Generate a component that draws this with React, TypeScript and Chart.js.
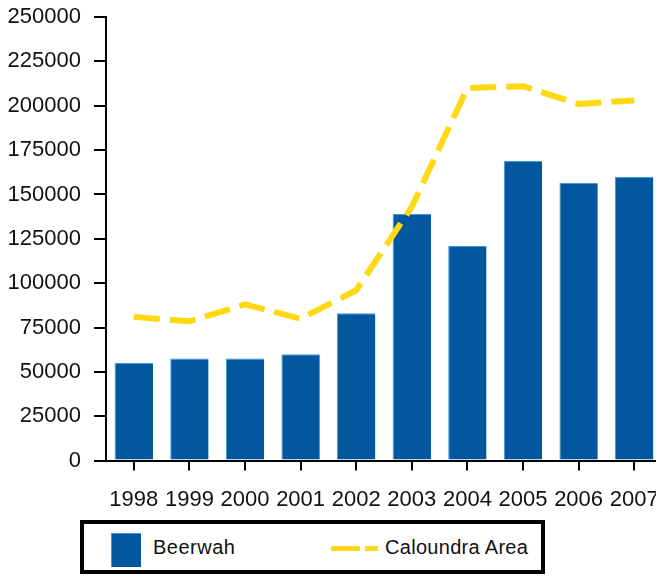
import React, { useEffect, useRef } from "react";
import { Chart, registerables } from "chart.js";

Chart.register(...registerables);

const years = ["1998", "1999", "2000", "2001", "2002", "2003", "2004", "2005", "2006", "2007"];
const beerwah = [55000, 57500, 57500, 60000, 83000, 139000, 121000, 169000, 156500, 160000];
const caloundra = [81000, 78500, 88000, 80000, 96000, 143000, 210000, 211000, 201000, 203000];
const yMin = 0;
const yMax = 250000;
const yStep = 25000;

const BAR_LABEL = "Beerwah";
const LINE_LABEL = "Caloundra Area";
const BAR_COLOR = "#03579E";
const BAR_EDGE = "#3C97E4";
const LINE_COLOR = "#FFD814";
const FONT = "'Liberation Sans', Arial, sans-serif";

export default function App() {
  const ref = useRef<HTMLCanvasElement>(null);

  useEffect(() => {
    if (!ref.current) return;
    const chart = new Chart(ref.current, {
      type: "bar",
      data: {
        labels: years,
        datasets: [
          {
            type: "line",
            label: LINE_LABEL,
            data: caloundra,
            borderColor: LINE_COLOR,
            backgroundColor: LINE_COLOR,
            borderWidth: 6,
            borderDash: [26, 10],
            borderCapStyle: "butt",
            borderJoinStyle: "round",
            pointRadius: 0,
            tension: 0,
            fill: false,
            order: 0,
          } as any,
          {
            type: "bar",
            label: BAR_LABEL,
            data: beerwah,
            backgroundColor: BAR_COLOR,
            borderColor: BAR_EDGE,
            borderWidth: { top: 1, left: 1, right: 0, bottom: 0 },
            barPercentage: 0.69,
            categoryPercentage: 1,
            order: 1,
          } as any,
        ],
      },
      options: {
        responsive: false,
        animation: false,
        layout: { padding: { top: 17, left: 0, right: 0, bottom: 0 } },
        plugins: {
          legend: { display: false },
          tooltip: { enabled: false },
        },
        scales: {
          x: {
            offset: true,
            afterFit: (s: any) => {
              s.paddingLeft = 0;
              s.paddingRight = 0;
            },
            grid: {
              display: true,
              drawOnChartArea: false,
              drawTicks: true,
              tickLength: 10,
              color: "#000",
              lineWidth: 2,
              offset: false,
            },
            border: { display: true, color: "#000", width: 2 },
            ticks: {
              autoSkip: false,
              maxRotation: 0,
              minRotation: 0,
              padding: 16,
              color: "#111",
              font: { family: FONT, size: 22 },
            },
          },
          y: {
            min: yMin,
            max: yMax,
            afterFit: (s: any) => {
              s.width = 106;
              s.paddingTop = 0;
              s.paddingBottom = 0;
            },
            grid: {
              display: true,
              drawOnChartArea: false,
              drawTicks: true,
              tickLength: 12,
              color: "#000",
              lineWidth: 2,
            },
            border: { display: true, color: "#000", width: 2 },
            ticks: {
              stepSize: yStep,
              padding: 13,
              color: "#111",
              font: { family: FONT, size: 22 },
              callback: (v: any) => String(v),
            },
          },
        },
      },
    });
    return () => chart.destroy();
  }, []);

  return (
    <div
      style={{
        position: "absolute",
        left: 0,
        top: 0,
        width: 656,
        height: 577,
        overflow: "hidden",
        background: "#fff",
        fontFamily: FONT,
      }}
    >
      <canvas ref={ref} width={662} height={529} style={{ display: "block" }} />
      <div
        style={{
          position: "absolute",
          left: 80,
          top: 520,
          width: 465,
          height: 54,
          boxSizing: "border-box",
          border: "4px solid #000",
          background: "#fff",
        }}
      >
        <div
          style={{
            position: "absolute",
            left: 27,
            top: 9,
            width: 30,
            height: 34,
            boxSizing: "border-box",
            background: BAR_COLOR,
            borderLeft: `1px solid ${BAR_EDGE}`,
            borderTop: `1px solid ${BAR_EDGE}`,
          }}
        />
        <div
          style={{
            position: "absolute",
            left: 69,
            top: 0,
            height: 46,
            lineHeight: "46px",
            fontSize: 20,
            letterSpacing: 0.5,
            color: "#111",
            whiteSpace: "nowrap",
          }}
        >
          {BAR_LABEL}
        </div>
        <div
          style={{
            position: "absolute",
            left: 247,
            top: 22,
            width: 29,
            height: 5,
            background: LINE_COLOR,
          }}
        />
        <div
          style={{
            position: "absolute",
            left: 281,
            top: 22,
            width: 13,
            height: 5,
            background: LINE_COLOR,
          }}
        />
        <div
          style={{
            position: "absolute",
            left: 301,
            top: 0,
            height: 46,
            lineHeight: "46px",
            fontSize: 20,
            letterSpacing: 0.3,
            color: "#111",
            whiteSpace: "nowrap",
          }}
        >
          {LINE_LABEL}
        </div>
      </div>
    </div>
  );
}
